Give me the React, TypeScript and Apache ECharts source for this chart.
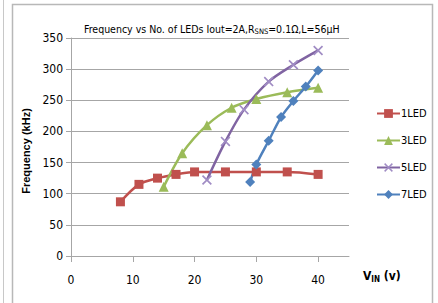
import React, { useEffect, useRef } from "react";
import * as echarts from "echarts";

const xTicks = [0, 10, 20, 30, 40];
const led1 = [[8, 87], [11, 115], [14, 125], [17, 131], [20, 135], [25, 135], [30, 135], [35, 135], [40, 131]];
const led3 = [[15, 111], [18, 165], [22, 210], [26, 238], [30, 252], [35, 263], [40, 270]];
const led5 = [[22, 122], [25, 184], [28, 235], [32, 280], [36, 307], [40, 330]];
const led7 = [[29, 119], [30, 147], [32, 185], [34, 223], [36, 249], [38, 272], [40, 298]];
const seriesNames = ["1LED", "3LED", "5LED", "7LED"];

const FONT = "'Liberation Sans Narrow', 'DejaVu Sans Condensed', sans-serif";
const X_PATH =
  "path://M0,1.2 L1.2,0 L5,3.8 L8.8,0 L10,1.2 L6.2,5 L10,8.8 L8.8,10 L5,6.2 L1.2,10 L0,8.8 L3.8,5 Z";

export default function App() {
  const ref = useRef<HTMLDivElement>(null);
  useEffect(() => {
    const chart = echarts.init(ref.current!, null, { renderer: "svg" });
    const mk = (name: string, data: number[][], color: string, symbol: string, size: number, symColor?: string) => ({
      name,
      type: "line",
      data,
      smooth: 0.3,
      symbol,
      symbolSize: size,
      lineStyle: { color, width: 2.5 },
      itemStyle: { color: symColor || color },
      z: 3,
    });
    chart.setOption({
      animation: false,
      backgroundColor: "#ffffff",
      textStyle: { fontFamily: FONT },
      title: {
        text: "{t|Frequency vs No. of LEDs Iout=2A,R}{s|SNS}{t|=0.1Ω,L=56µH}",
        left: 79,
        top: 17,
        textStyle: {
          fontWeight: "normal",
          rich: {
            t: { fontFamily: FONT, fontSize: 10.5, fontWeight: "normal", color: "#000000" },
            s: { fontFamily: FONT, fontSize: 7.5, fontWeight: "normal", color: "#000000", verticalAlign: "bottom", padding: [5, 0, 0, 0] },
          },
        },
      },
      legend: {
        orient: "vertical",
        left: 371,
        top: 103,
        itemGap: 16,
        itemWidth: 23,
        itemHeight: 11,
        data: seriesNames,
        textStyle: { fontFamily: FONT, fontSize: 11, color: "#000000", padding: [0, 0, 0, -4] },
      },
      grid: { left: 71, right: 89, top: 38, bottom: 47, containLabel: false },
      xAxis: {
        type: "value",
        min: 0,
        max: 45,
        interval: 10,
        splitLine: { show: false },
        axisLine: { show: true, onZero: false, lineStyle: { color: "#a6a6a6", width: 1 } },
        axisTick: { show: true, length: 6, lineStyle: { color: "#a6a6a6" }, customValues: xTicks },
        axisLabel: { customValues: xTicks, fontFamily: FONT, fontSize: 12, color: "#000000", margin: 18 },
      },
      yAxis: {
        type: "value",
        min: 0,
        max: 350,
        interval: 50,
        axisLine: { show: true, lineStyle: { color: "#a6a6a6", width: 1 } },
        axisTick: { show: true, length: 5, lineStyle: { color: "#a6a6a6" } },
        axisLabel: { fontFamily: FONT, fontSize: 12, color: "#000000", margin: 8 },
        splitLine: { show: true, lineStyle: { color: "#a6a6a6", width: 1 } },
        name: "Frequency (kHz)",
        nameLocation: "middle",
        nameGap: 40,
        nameTextStyle: { fontFamily: "'Liberation Sans', sans-serif", fontSize: 11, fontWeight: "bold", color: "#000000", padding: [0, 0, 0, -8] },
      },
      graphic: [
        { type: "line", shape: { x1: 3.5, y1: 0, x2: 3.5, y2: 303 }, style: { stroke: "#c8c8c8", lineWidth: 1 } },
        { type: "rect", shape: { x: 12.5, y: 4.5, width: 420, height: 320 }, style: { fill: "none", stroke: "#b8b8b8", lineWidth: 1.5 }, z: -1 },
        {
          type: "text",
          left: 363,
          top: 270,
          style: {
            text: "{b|V}{s|IN}{b| (v)}",
            rich: {
              b: { fontFamily: FONT, fontSize: 12, fontWeight: "bold", fill: "#000000" },
              s: { fontFamily: FONT, fontSize: 8, fontWeight: "bold", fill: "#000000", verticalAlign: "bottom", padding: [6, 0, 0, 0] },
            },
          },
        },
      ],
      series: [
        mk("1LED", led1, "#c0504d", "rect", 9),
        mk("3LED", led3, "#9bbb59", "triangle", 10),
        mk("5LED", led5, "#8064a2", X_PATH, 10, "#a08cc4"),
        mk("7LED", led7, "#4f81bd", "diamond", 10),
      ],
    });
    return () => chart.dispose();
  }, []);
  return <div ref={ref} style={{ position: "fixed", left: 0, top: 0, width: 438, height: 303 }} />;
}
